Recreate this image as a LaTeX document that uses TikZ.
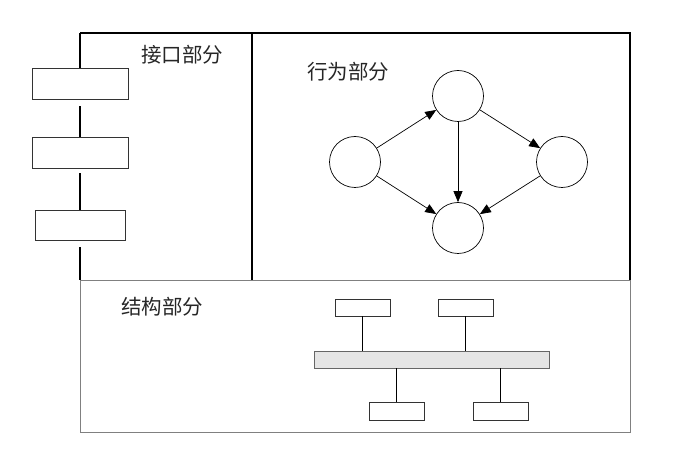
\documentclass[tikz,border=0pt]{standalone}
\usepackage{fontspec}
\newfontfamily\cjk{Noto Sans CJK SC}
\usetikzlibrary{arrows.meta}
\begin{document}
\begin{tikzpicture}[x=1pt,y=-1pt,
  box/.style={draw=black!80,line width=0.8pt,fill=white,inner sep=0pt},
  circ/.style={draw,circle,minimum size=51pt,inner sep=0pt,line width=0.7pt},
  arr/.style={-{Triangle[length=11pt,width=9pt]},line width=0.7pt},
  lab/.style={font=\cjk\fontsize{20.5}{24}\selectfont,text=black!85},
  wire/.style={line width=1.1pt}]
\useasboundingbox (0,0) rectangle (689,454);
% outer frames
\draw[black!50,line width=0.9pt] (80,280) rectangle (630,432);
\draw[line width=1.1pt] (80,33) -- (630,33) -- (630,280);
\draw[line width=1.1pt] (252,33) -- (252,280);
% left interface boxes
\node[box,minimum width=96pt,minimum height=31pt] (i1) at (80,83.5) {};
\node[box,minimum width=96pt,minimum height=31pt] (i2) at (80,152.5) {};
\node[box,minimum width=90pt,minimum height=30pt] (i3) at (80,225) {};
\coordinate (t0) at (80,33);
\coordinate (b0) at (80,280);
\draw[wire] (t0) -- (i1.north);
\draw[wire] ([yshift=-7pt]i1.south) -- (i2.north);
\draw[wire] ([yshift=-5pt]i2.south) -- (i3.north);
\draw[wire] ([yshift=-7pt]i3.south) -- (b0);
\node[lab] (l1) at (182,55) {接口部分};
\node[lab] (l2) at (348,72) {行为部分};
\node[lab] (l3) at (162,307) {结构部分};
% behaviour graph
\node[circ] (cl) at (355,162) {};
\node[circ] (ct) at (458,96) {};
\node[circ] (cr) at (562,162) {};
\node[circ] (cb) at (458,228) {};
\draw[arr] (cl) -- (ct);
\draw[arr] (ct) -- (cr);
\draw[arr] (ct) -- (cb);
\draw[arr] (cl) -- (cb);
\draw[arr] (cr) -- (cb);
% structure
\node[box,minimum width=55pt,minimum height=17pt] (s1) at (362.5,307.5) {};
\node[box,minimum width=55pt,minimum height=17pt] (s2) at (465.5,307.5) {};
\node[box,draw=black!60,fill=black!10,minimum width=235pt,minimum height=17pt] (bus) at (431.5,359.5) {};
\node[box,minimum width=55pt,minimum height=18pt] (s3) at (396.5,411) {};
\node[box,minimum width=55pt,minimum height=18pt] (s4) at (500.5,411) {};
\draw[wire] (s1.south) -- (s1.south |- bus.north);
\draw[wire] (s2.south) -- (s2.south |- bus.north);
\draw[wire] (s3.north) -- (s3.north |- bus.south);
\draw[wire] (s4.north) -- (s4.north |- bus.south);
\end{tikzpicture}
\end{document}
